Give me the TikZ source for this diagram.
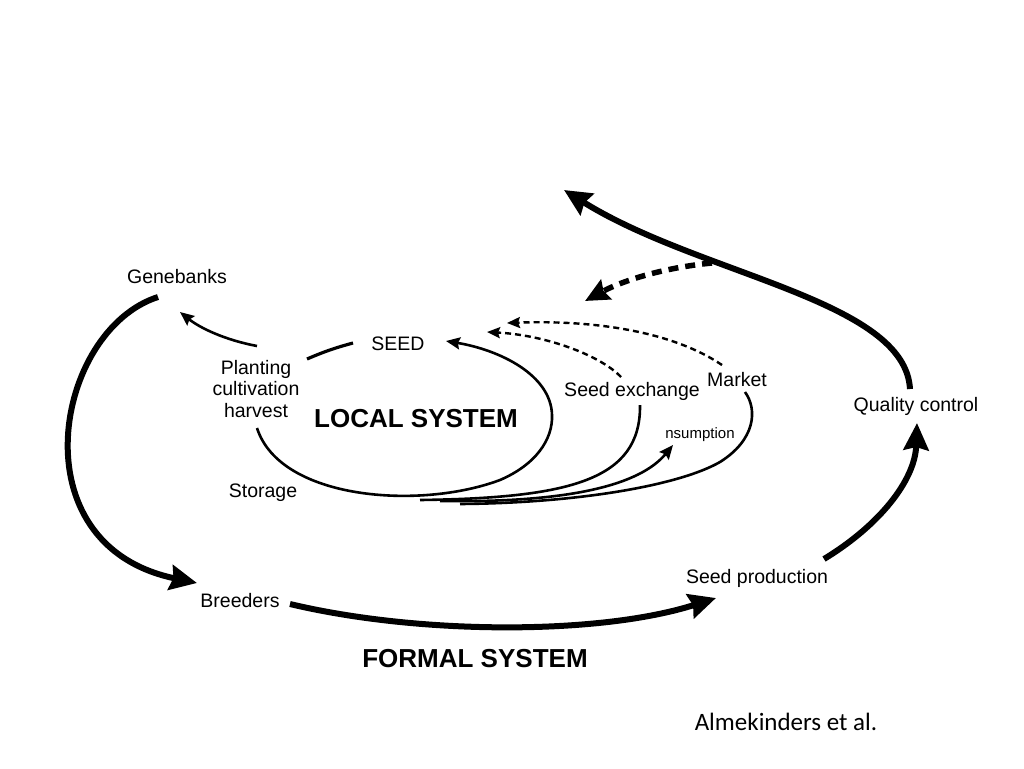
\documentclass[tikz,border=0pt]{standalone}
\usepackage{fontspec}
\setmainfont{Liberation Sans}
\newfontfamily\creditfont{Carlito}
\usetikzlibrary{arrows.meta}
\usetikzlibrary{positioning}

\begin{document}
\begin{tikzpicture}[x=1pt,y=-1pt]
        \tikzset{
          every node/.style={
            font=\fontsize{19.5}{21.5}\selectfont,
            inner sep = 0pt,
            align=center,
          },
          title/.style={font=\fontsize{26}{28}\selectfont\bfseries},
          formal/.style={line width=6pt, -{Stealth[length=27pt,width=25pt,inset=3pt]}},
          local/.style={line width=2.6pt},
          localarrow/.style={local, -{Stealth[length=14pt,width=12pt,inset=2pt]}},
          feedback/.style={line width=2.4pt, dash pattern=on 6pt off 4pt,
            -{Stealth[length=13pt,width=11pt,inset=2pt]}},
          bigfeedback/.style={line width=5.5pt, dash pattern=on 10pt off 7pt,
            -{Stealth[length=24pt,width=22pt,inset=3pt]}},
        }
        \useasboundingbox (0,0) rectangle (1024,768);
        \node (gene) at (177,277) {Genebanks};
        \node (seed) at (398,344) {SEED};
        \node (plant) at (256,389) {Planting\\cultivation\\harvest};
        \node[title] (local) at (416,419) {LOCAL SYSTEM};
        \node (exch) at (632,391) {Seed exchange};
        \node (market) at (737,380) {Market};
        \node[font=\fontsize{15}{17}\selectfont] (cons) at (700,435) {nsumption};
        \node (store) at (263,493) {Storage};
        \node (qc) at (916,406) {Quality control};
        \node (breed) at (240,601) {Breeders};
        \node (sprod) at (757,578) {Seed production};
        \node[title] (formal) at (475,659) {FORMAL SYSTEM};
        \node[font=\creditfont\fontsize{25}{27}\selectfont] (credit) at (786,722) {Almekinders et al.};
        % free ends of the connectors
        \coordinate (g1) at (158,297);
        \coordinate (b1) at (197,583);
        \coordinate (b2) at (290,604);
        \coordinate (s1) at (716,598);
        \coordinate (s2) at (824,559);
        \coordinate (q1) at (917,423);
        \coordinate (q2) at (910,389);
        \coordinate (top) at (564,190);
        \coordinate (d1) at (712,263);
        \coordinate (d2) at (585,301);
        \coordinate (m1) at (722,365);
        \coordinate (m2) at (507,323);
        \coordinate (e1) at (621,377);
        \coordinate (e2) at (487,332);
        \coordinate (p1) at (257,428);
        \coordinate (p2) at (446,341);
        \coordinate (p3) at (307,359);
        \coordinate (p4) at (353,343);
        \coordinate (p5) at (257,346);
        \coordinate (p6) at (180,312);
        \coordinate (e3) at (640,405);
        \coordinate (e4) at (420,500);
        \coordinate (c1) at (440,501);
        \coordinate (c2) at (673,445);
        \coordinate (m3) at (745,392);
        \coordinate (m4) at (460,504);
        % formal system
        \draw[formal] (g1) .. controls (55,330) and (15,545) .. (b1);
        \draw[formal] (b2) .. controls (420,635) and (600,635) .. (s1);
        \draw[formal] (s2) .. controls (880,525) and (915,480) .. (q1);
        \draw[formal] (q2) .. controls (905,300) and (700,275) .. (top);
        \draw[bigfeedback] (d1) .. controls (660,268) and (620,282) .. (d2);
        % local system
        \draw[localarrow] (p1) .. controls (280,500) and (420,510) .. (500,480)
          .. controls (535,465) and (553,440) .. (552,415)
          .. controls (551,375) and (500,350) .. (p2);
        \draw[local, line width=3.2pt] (p3) to[bend left=4] (p4);
        \draw[localarrow] (p5) .. controls (225,340) and (200,328) .. (p6);
        \draw[local] (e3) .. controls (641,480) and (570,498) .. (e4);
        \draw[localarrow] (c1) .. controls (570,503) and (640,485) .. (c2);
        \draw[local] (m3) .. controls (758,410) and (755,440) .. (720,462)
          .. controls (680,485) and (580,503) .. (m4);
        \draw[feedback] (m1) .. controls (670,330) and (590,320) .. (m2);
        \draw[feedback] (e1) .. controls (600,355) and (545,335) .. (e2);
\end{tikzpicture}
\end{document}
